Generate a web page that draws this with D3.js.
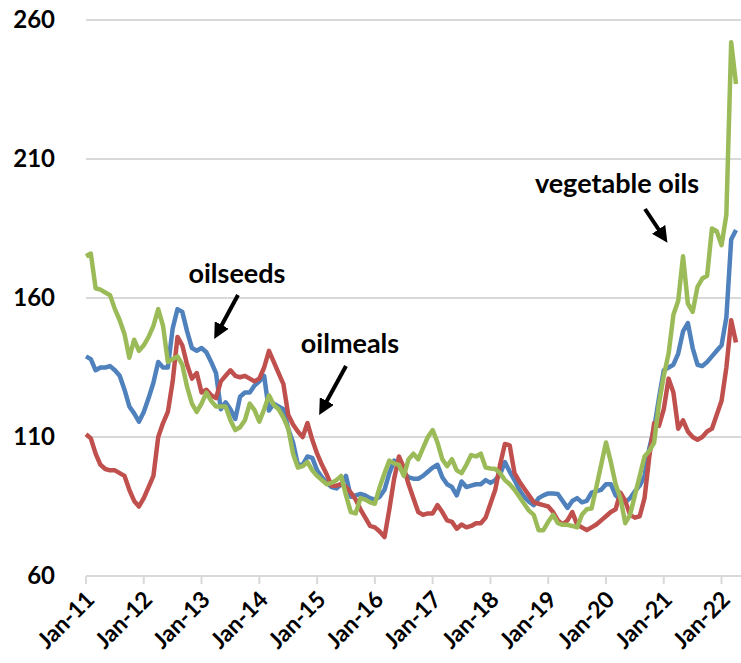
<!DOCTYPE html>
<html lang="en">
  <head>
    <meta charset="UTF-8" />
    <title>Oilseeds, oilmeals and vegetable oils price indices</title>
    <script src="https://d3js.org/d3.v7.min.js"></script>
    <style>
      body {
        margin: 0;
        background: #fff;
        font-family: Lato, 'Open Sans', sans-serif;
      }
      .grid line {
        stroke: #d9d9d9;
        stroke-width: 2;
      }
      .tick-label {
        font-weight: bold;
        fill: #000;
      }
      .series {
        fill: none;
        stroke-width: 4.5;
        stroke-linejoin: round;
      }
      .note {
        font-weight: bold;
        font-size: 27px;
        fill: #000;
      }
    </style>
  </head>
  <body>
    <div id="chart"></div>
    <script>
      // monthly index values, Jan-11 .. Apr-22
      const oilseeds = [
        139, 138, 134, 135, 135, 135.5, 134, 132, 127, 121, 118.5, 115.5,
        119, 124, 129.5, 137, 135, 135, 149, 156, 155, 148, 142, 141,
        142, 140.5, 137, 133, 120, 122.5, 120, 116.5, 124.5, 126, 126, 128.5,
        130, 132, 119.5, 122, 121, 120, 113, 108, 100, 100, 103, 102.5,
        98, 95.5, 93.5, 92, 91.5, 93, 96, 88.5, 89, 89.5, 89, 88,
        87.5, 88.5, 91, 97, 101.5, 99.5, 97, 95.5, 95, 95, 96, 97.5,
        99, 100, 95.5, 93, 92, 89, 94, 92, 92.5, 93, 93, 94.5,
        93.5, 94.5, 96.5, 101, 97.5, 94.5, 91, 88.5, 86.7, 85.5, 88, 89,
        89.7, 89.7, 89.5, 87, 84.5, 87, 88, 86.5, 87, 90, 90.5, 91,
        93, 93, 89, 87.5, 86.5, 88, 90.5, 92.5, 96, 106, 113, 124,
        134, 135, 136, 140, 148, 151, 142, 136, 135.5, 137, 139, 141,
        143, 153, 181, 184.5,
      ];
      const oilmeals = [
        111, 109.5, 104, 100, 98.5, 98, 98, 97, 96, 91, 87, 85,
        88, 92, 96, 110, 115, 119, 130, 146, 143, 136, 131, 133,
        126, 127, 125, 124, 130, 132, 134, 132, 131.5, 132, 131, 130,
        131, 135, 141, 137, 133, 129, 118, 114.5, 112, 110, 115, 109,
        104, 100, 96.5, 92.5, 92.5, 93, 92, 90, 87.5, 84, 81, 78,
        77.5, 76, 74, 84, 95, 103, 99, 93, 88, 83, 82, 82.5,
        82.5, 85.5, 83, 80, 79.5, 77, 78.5, 77.5, 78, 79, 79, 81,
        86, 91, 100, 107.5, 107, 97, 94, 91.5, 89, 86.5, 86, 85.5,
        85, 83, 80, 78.5, 80, 83, 78.5, 77.5, 76.5, 77.5, 78.5, 80,
        81.5, 83, 84, 90, 87, 82, 81, 81.5, 88, 103, 115, 114,
        120, 131, 126, 113, 116, 112, 110, 109, 110, 112, 113, 118,
        123, 135, 152, 144,
      ];
      const vegetableOils = [
        175, 176, 163.5, 163, 162, 161, 156, 152, 147, 138.5, 145, 141,
        143, 146, 150, 156, 150, 137, 138, 139, 136, 128, 122, 119,
        122, 126, 123, 121, 121, 121, 116, 112.5, 113.5, 116, 122, 119.7,
        115.5, 120, 125, 121.5, 120, 117, 113, 104, 99, 99.5, 101, 98,
        96, 94.5, 93, 93.5, 94.5, 96, 89, 83, 82.5, 88, 87.5, 86.5,
        86, 92, 97, 101.5, 100.5, 100, 96, 102, 104, 102, 106, 110,
        112.5, 108, 102, 99.5, 102, 98, 97, 100, 103.5, 103, 104, 99,
        98.7, 98.5, 97, 94.5, 93, 91, 88.5, 86, 83.5, 82, 76.5, 76.5,
        79.5, 82, 79, 78.4, 78.4, 78, 77.5, 82, 84, 84.3, 92, 100,
        108, 101, 93, 88, 79, 82, 89, 96, 103, 105, 108, 122,
        132, 140, 154, 159, 175, 158, 155, 164, 167, 168, 185, 184,
        179, 190, 252, 237,
      ];
      const yTicks = [60, 110, 160, 210, 260];
      const xTickLabels = [
        'Jan-11', 'Jan-12', 'Jan-13', 'Jan-14', 'Jan-15', 'Jan-16',
        'Jan-17', 'Jan-18', 'Jan-19', 'Jan-20', 'Jan-21', 'Jan-22',
      ];
      const seriesNames = ['oilseeds', 'oilmeals', 'vegetable oils'];
      const colors = ['#4f81bd', '#c0504d', '#9bbb59'];

      const width = 741,
        height = 663;
      const left = 86,
        plotTop = 20,
        bottom = 576,
        plotRight = 741;

      const svg = d3
        .select('#chart')
        .append('svg')
        .attr('width', width)
        .attr('height', height);

      const n = oilseeds.length;
      const x = d3
        .scaleLinear()
        .domain([0, n - 1])
        .range([left, 736]);
      const y = d3.scaleLinear().domain([60, 260]).range([bottom, plotTop]);

      // gridlines (the 60 line doubles as the x axis)
      svg
        .append('g')
        .attr('class', 'grid')
        .selectAll('line')
        .data(yTicks)
        .join('line')
        .attr('x1', left)
        .attr('x2', plotRight)
        .attr('y1', (d) => y(d))
        .attr('y2', (d) => y(d));

      // y labels
      svg
        .append('g')
        .selectAll('text')
        .data(yTicks)
        .join('text')
        .attr('class', 'tick-label')
        .attr('x', 55)
        .attr('y', (d) => y(d))
        .attr('dy', '0.35em')
        .attr('text-anchor', 'end')
        .style('font-size', '24px')
        .text((d) => d);

      // x ticks every January
      const xAxis = svg.append('g');
      xAxis
        .selectAll('line')
        .data(xTickLabels)
        .join('line')
        .attr('x1', (d, i) => x(i * 12))
        .attr('x2', (d, i) => x(i * 12))
        .attr('y1', bottom)
        .attr('y2', bottom + 8)
        .attr('stroke', '#d9d9d9')
        .attr('stroke-width', 2);
      xAxis
        .selectAll('text')
        .data(xTickLabels)
        .join('text')
        .attr('class', 'tick-label')
        .attr('text-anchor', 'end')
        .style('font-size', '23px')
        .attr(
          'transform',
          (d, i) => `translate(${x(i * 12) + 10},${bottom + 25}) rotate(-45)`
        )
        .text((d) => d);

      // lines
      const line = d3
        .line()
        .x((d, i) => x(i))
        .y((d) => y(d));
      [oilseeds, oilmeals, vegetableOils].forEach((s, k) => {
        svg
          .append('path')
          .attr('class', 'series')
          .attr('stroke', colors[k])
          .attr('d', line(s));
      });

      // annotations
      svg
        .append('defs')
        .append('marker')
        .attr('id', 'head')
        .attr('viewBox', '0 0 10 10')
        .attr('refX', 5)
        .attr('refY', 5)
        .attr('markerWidth', 4)
        .attr('markerHeight', 4)
        .attr('orient', 'auto')
        .append('path')
        .attr('d', 'M0,0 L10,5 L0,10 z')
        .attr('fill', '#000');

      const notes = [
        { text: seriesNames[0], tx: 237, ty: 283, a: [238, 295, 218, 332] },
        { text: seriesNames[1], tx: 350, ty: 353, a: [346, 366, 323, 408] },
        { text: seriesNames[2], tx: 617, ty: 193, a: [645, 209, 663, 236] },
      ];
      notes.forEach((d) => {
        svg
          .append('text')
          .attr('class', 'note')
          .attr('x', d.tx)
          .attr('y', d.ty)
          .attr('text-anchor', 'middle')
          .text(d.text);
        svg
          .append('line')
          .attr('x1', d.a[0])
          .attr('y1', d.a[1])
          .attr('x2', d.a[2])
          .attr('y2', d.a[3])
          .attr('stroke', '#000')
          .attr('stroke-width', 4)
          .attr('marker-end', 'url(#head)');
      });
    </script>
  </body>
</html>
